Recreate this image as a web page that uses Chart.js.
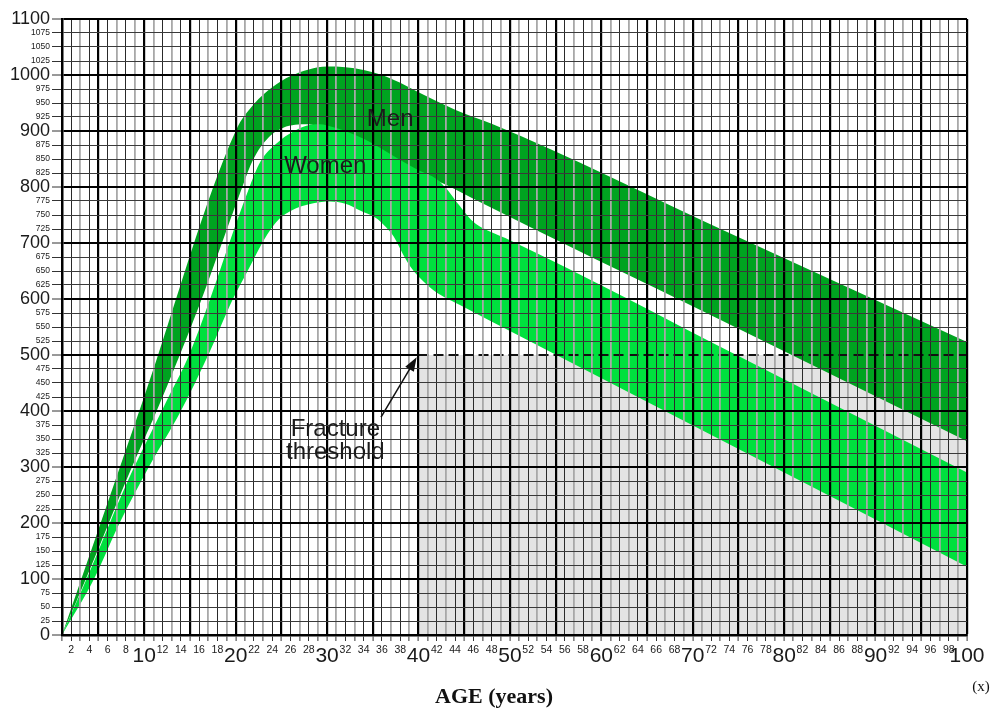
<!DOCTYPE html>
<html>
<head>
<meta charset="utf-8">
<script src="https://cdn.jsdelivr.net/npm/chart.js@4.4.1/dist/chart.umd.min.js"></script>
<style>
  body { margin: 0; background: #fff; }
</style>
</head>
<body>
<canvas id="bmdChart" width="992" height="710"></canvas>
<script>
// Bone mass bands (age in years, value on the 0-1100 scale)
const menUpperAge = [1, 10, 20, 22, 24, 26, 28, 30, 32, 34, 36, 38, 40, 42, 44, 46, 48, 74, 100];
const menUpper    = [0, 426, 900, 948, 978, 998, 1010, 1015, 1014, 1009, 1000, 986, 969, 953, 938, 925, 913, 718, 523];

const menLowerAge = [1, 4, 8, 12, 16, 18.5, 20.5, 21.6, 22.5, 23.4, 24.3, 25.2, 26.5, 27.8, 30, 32, 34, 36, 38, 40, 42, 44, 46, 73, 100];
const menLower    = [0, 115, 275, 425, 588, 700, 790, 838, 866, 885, 898, 906, 911, 912, 902, 887, 871, 855, 839, 825, 811, 796, 779, 563, 346];

const womenUpperAge = [1, 4, 8, 12.2, 14.9, 17.2, 19.3, 21.4, 22.7, 24.5, 26.3, 28.2, 29.2, 30, 32, 34, 36, 38, 40, 42, 43, 44, 46, 48, 50, 75, 100];
const womenUpper    = [0, 112, 268, 410, 500, 600, 700, 795, 845, 878, 899, 911, 912, 910, 900, 886, 868, 848, 830, 814, 798, 777, 738, 719, 705, 498, 290];

const womenLowerAge = [1, 4.5, 7.3, 10.5, 14, 17, 19.7, 21.3, 22.9, 24, 24.9, 26, 27.1, 28.5, 30.3, 32, 33.6, 35.3, 36.4, 37.3, 38.3, 39.1, 40, 41.6, 44.9, 50, 75, 100];
const womenLower    = [0, 100, 200, 300, 400, 500, 600, 650, 700, 728, 745, 757, 765, 771, 774, 770, 758, 745, 729, 711, 680, 658, 640, 616, 586, 543, 332, 122];

// fracture threshold
const thresholdAge = [40, 100];
const threshold    = [500, 500];

const MEN = '#00a320';
const WOMEN = '#00e03e';
const sans = "'Liberation Sans', Arial, sans-serif";
const serif = "'Liberation Serif', 'Times New Roman', serif";

function pts(xs, ys) {
  return xs.map((x, i) => ({ x: x, y: ys[i] }));
}

const annotations = {
  id: 'annotations',
  afterDraw(chart) {
    const { ctx, chartArea } = chart;
    const px = v => chart.scales.x.getPixelForValue(v);
    const py = v => chart.scales.y.getPixelForValue(v);
    ctx.save();

    // solid part of the 500 line (the dashed part is a dataset)
    ctx.strokeStyle = '#000';
    ctx.lineWidth = 2;
    ctx.beginPath();
    ctx.moveTo(chartArea.left, py(500));
    ctx.lineTo(px(40), py(500));
    ctx.stroke();

    ctx.fillStyle = '#1b1b1b';
    ctx.font = '24px ' + sans;
    ctx.textAlign = 'left';
    ctx.textBaseline = 'alphabetic';
    ctx.fillText('Men', px(34.35), py(909));
    ctx.fillText('Women', px(25.3), py(825));

    ctx.textAlign = 'center';
    ctx.fillText('Fracture', px(30.9), py(355));
    ctx.fillText('threshold', px(30.9), py(314));

    // arrow
    const x0 = px(35.9), y0 = py(389), x1 = px(39.8), y1 = py(496);
    const a = Math.atan2(y1 - y0, x1 - x0);
    const c = Math.cos(a), s = Math.sin(a);
    ctx.strokeStyle = '#111';
    ctx.lineWidth = 1.5;
    ctx.beginPath();
    ctx.moveTo(x0, y0);
    ctx.lineTo(x1 - 10 * c, y1 - 10 * s);
    ctx.stroke();
    ctx.beginPath();
    ctx.moveTo(x1, y1);
    ctx.lineTo(x1 - 14 * c + 5 * s, y1 - 14 * s - 5 * c);
    ctx.lineTo(x1 - 14 * c - 5 * s, y1 - 14 * s + 5 * c);
    ctx.closePath();
    ctx.fillStyle = '#111';
    ctx.fill();

    // axis title
    ctx.fillStyle = '#111';
    ctx.textBaseline = 'middle';
    ctx.font = 'bold 22px ' + serif;
    ctx.fillText('AGE (years)', chart.width / 2 - 2, chartArea.bottom + 62);
    ctx.font = '15px ' + serif;
    ctx.fillText('(x)', chartArea.right + 14, chartArea.bottom + 52);
    ctx.restore();
  }
};

new Chart(document.getElementById('bmdChart'), {
  type: 'line',
  data: {
    datasets: [
      {
        label: 'Women upper',
        data: pts(womenUpperAge, womenUpper),
        fill: '+1',
        backgroundColor: WOMEN,
        borderColor: 'transparent',
        borderWidth: 0,
        pointRadius: 0,
        cubicInterpolationMode: 'monotone',
        order: 1
      },
      {
        label: 'Women lower',
        data: pts(womenLowerAge, womenLower),
        fill: false,
        borderColor: 'transparent',
        borderWidth: 0,
        pointRadius: 0,
        cubicInterpolationMode: 'monotone',
        order: 1
      },
      {
        label: 'Men upper',
        data: pts(menUpperAge, menUpper),
        fill: '+1',
        backgroundColor: MEN,
        borderColor: 'transparent',
        borderWidth: 0,
        pointRadius: 0,
        cubicInterpolationMode: 'monotone',
        order: 2
      },
      {
        label: 'Men lower',
        data: pts(menLowerAge, menLower),
        fill: false,
        borderColor: 'transparent',
        borderWidth: 0,
        pointRadius: 0,
        cubicInterpolationMode: 'monotone',
        order: 2
      },
      {
        label: 'Below threshold',
        data: pts(thresholdAge, threshold),
        fill: 'origin',
        backgroundColor: '#e4e4e4',
        borderColor: 'transparent',
        borderWidth: 0,
        pointRadius: 0,
        order: 3
      },
      {
        label: 'Fracture threshold',
        data: pts(thresholdAge, threshold),
        fill: false,
        borderColor: '#111',
        borderWidth: 2,
        borderDash: [10, 5],
        pointRadius: 0,
        order: 0
      }
    ]
  },
  options: {
    responsive: false,
    animation: false,
    events: [],
    layout: { padding: { left: 0, right: 25, top: 19, bottom: 0 } },
    plugins: {
      legend: { display: false },
      tooltip: { enabled: false }
    },
    scales: {
      x: {
        type: 'linear',
        min: 1,
        max: 100,
        afterFit: scale => { scale.height = 75; },
        border: { color: '#000', width: 2.5, z: 2 },
        grid: {
          z: 1,
          color: ctx => {
            const v = ctx.tick.value;
            if (v % 5 === 0) return '#000';
            return v % 2 === 0 ? '#2a2a2a' : '#a8a8a8';
          },
          lineWidth: ctx => {
            const v = ctx.tick.value;
            if (v % 5 === 0) return 2.2;
            return v % 2 === 0 ? 1 : 1.8;
          },
          tickLength: 6,
          tickColor: '#333',
          tickWidth: 1
        },
        ticks: {
          stepSize: 1,
          autoSkip: false,
          maxRotation: 0,
          minRotation: 0,
          padding: 3,
          color: '#1a1a1a',
          font: ctx => (ctx.tick && ctx.tick.value % 10 === 0)
            ? { family: sans, size: 21 }
            : { family: sans, size: 10.5 },
          callback: v => (v % 2 === 0 ? String(v) : '')
        }
      },
      y: {
        min: 0,
        max: 1100,
        afterFit: scale => { scale.width = 62; },
        border: { color: '#000', width: 2.5, z: 2 },
        grid: {
          z: 1,
          color: ctx => {
            const v = ctx.tick.value;
            if (v === 500) return 'rgba(0,0,0,0)';
            return v % 100 === 0 ? '#000' : '#3a3a3a';
          },
          lineWidth: ctx => (ctx.tick.value % 100 === 0 ? 2 : 1),
          tickLength: 10,
          tickColor: '#333',
          tickWidth: 1
        },
        ticks: {
          stepSize: 25,
          autoSkip: false,
          padding: 2,
          color: '#1a1a1a',
          font: ctx => (ctx.tick && ctx.tick.value % 100 === 0)
            ? { family: sans, size: 18 }
            : { family: sans, size: 8.5 },
          callback: v => String(v)
        }
      }
    }
  },
  plugins: [annotations]
});
</script>
</body>
</html>
